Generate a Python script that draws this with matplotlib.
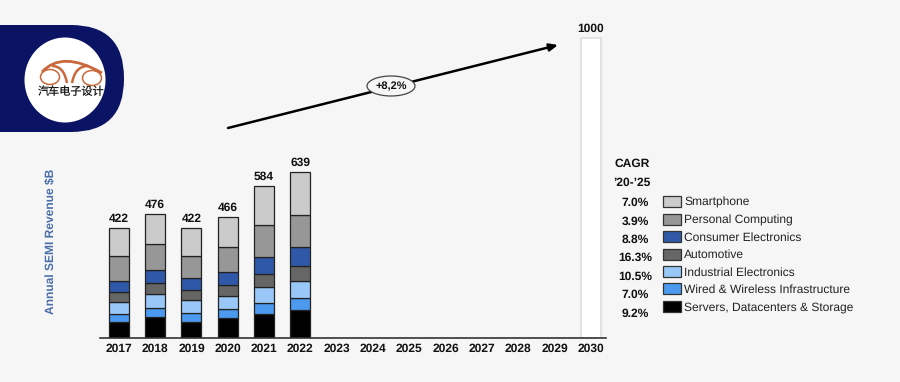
import matplotlib
matplotlib.use("Agg")
import matplotlib.pyplot as plt
from matplotlib.patches import Circle, Ellipse, FancyBboxPatch, Patch, PathPatch
from matplotlib.path import Path

plt.rcParams["font.family"] = ["Liberation Sans", "DejaVu Sans"]
plt.rcParams["text.hinting"] = "none"
plt.rcParams["text.hinting_factor"] = 1

years = [str(y) for y in range(2017, 2031)]
totals = [422, 476, 422, 466, 584, 639]
total_2030 = 1000
# the 2030 bar is not to scale in the original, this is its drawn height
height_2030 = 1154

segments = ["Smartphone", "Personal Computing", "Consumer Electronics", "Automotive",
            "Industrial Electronics", "Wired & Wireless Infrastructure",
            "Servers, Datacenters & Storage"]
cagr = ["7.0%", "3.9%", "8.8%", "16.3%", "10.5%", "7.0%", "9.2%"]
colors = ["#cbcbcb", "#979797", "#3058a8", "#666666", "#99c8f8", "#4c9af0", "#000000"]

smartphone = [108, 113, 105, 115, 148, 165]
personal = [93, 102, 85, 99, 123, 123]
consumer = [44, 49, 46, 49, 67, 73]
automotive = [40, 44, 41, 41, 50, 58]
industrial = [44, 51, 49, 49, 61, 65]
wired = [32, 36, 36, 37, 42, 49]
servers = [61, 81, 60, 76, 93, 106]
series = [smartphone, personal, consumer, automotive, industrial, wired, servers]

W, H = 900, 382
bg = "#f6f6f6"
fig = plt.figure(figsize=(W / 100, H / 100), dpi=100, facecolor=bg)

# bars
ax = fig.add_axes([100 / W, 1 - 338 / H, 506 / W, 318 / H], facecolor="none")
ax.set_xlim(-0.52, 13.42)
ax.set_ylim(0, 1223)
x = list(range(len(totals)))
bottom = [0] * len(totals)
for vals, c in zip(series[::-1], colors[::-1]):
    ax.bar(x, vals, width=0.55, bottom=bottom, color=c, edgecolor="#222222", linewidth=0.9)
    bottom = [b + v for b, v in zip(bottom, vals)]
for i, t in zip(x, totals):
    ax.text(i, t + 14, str(t), ha="center", va="bottom", fontsize=8.5, fontweight="bold", color="#111111")
ax.bar(13, height_2030, width=0.55, color="white", edgecolor="#dddddd", linewidth=1.2)
ax.text(13, height_2030 + 12, str(total_2030), ha="center", va="bottom", fontsize=8.5, fontweight="bold", color="#111111")
for s in ["top", "left", "right"]:
    ax.spines[s].set_visible(False)
ax.spines["bottom"].set_color("#333333")
ax.spines["bottom"].set_linewidth(1.2)
ax.set_yticks([])
ax.set_xticks(range(len(years)))
ax.set_xticklabels(years, fontsize=8.8, fontweight="bold", color="#111111")
ax.tick_params(axis="x", length=0, pad=4)

# overlay in pixel coordinates for logo, arrow, text
ov = fig.add_axes([0, 0, 1, 1], facecolor="none")
ov.set_xlim(0, W)
ov.set_ylim(H, 0)
ov.axis("off")

ov.add_patch(FancyBboxPatch((-60, 25), 184, 107, boxstyle="round,pad=0,rounding_size=53",
                            fc="#0b1464", ec="none"))
ov.add_patch(Ellipse((65, 80), 81, 85, fc="white", ec="none"))
orange = "#c8683c"


def curve(p0, c, p1, lw):
    path = Path([p0, c, p1], [Path.MOVETO, Path.CURVE3, Path.CURVE3])
    ov.add_patch(PathPatch(path, fc="none", ec=orange, lw=lw))


ov.add_patch(Ellipse((50, 77), 19, 15, fc="none", ec=orange, lw=1.1))
ov.add_patch(Ellipse((92, 78), 19, 15, fc="none", ec=orange, lw=1.1))
curve((42, 72), (62, 50), (102, 73), 2.0)
curve((67, 83), (64, 66), (52, 66), 1.8)
curve((72, 83), (75, 66), (88, 66), 1.8)
ov.text(71, 92, "汽车电子设计", ha="center", va="center", fontsize=8.0, color="#1a1a1a",
        family=["Noto Sans CJK SC", "DejaVu Sans"])

ov.annotate("", xy=(558, 45), xytext=(228, 128),
            arrowprops=dict(arrowstyle="-|>,head_width=0.22,head_length=0.5", lw=1.8, color="black",
                            shrinkA=0, shrinkB=0))
ov.add_patch(Ellipse((391, 86), 48, 20, fc=bg, ec="#444444", lw=0.9, zorder=3))
ov.text(391, 86, "+8,2%", ha="center", va="center", fontsize=8, fontweight="bold", color="#111111", zorder=4)

ov.text(51, 241, "Annual SEMI Revenue $B", rotation=90, ha="center", va="center",
        fontsize=8.5, fontweight="bold", color="#4a6ea8")

# CAGR column
ov.text(632, 164, "CAGR", ha="center", va="center", fontsize=8.6, fontweight="bold", color="#111111")
ov.text(632, 183, "’20-’25", ha="center", va="center", fontsize=8.6, fontweight="bold", color="#111111")
cagr_y = [203, 222, 240, 258, 277, 295, 314]
for yy, c in zip(cagr_y, cagr):
    ov.text(635, yy, c, ha="center", va="center", fontsize=8.6, fontweight="bold", color="#111111")

# legend
handles = [Patch(fc=c, ec="#333333", lw=0.9) for c in colors]
fig.legend(handles, segments, loc="upper left", bbox_to_anchor=(658.5 / W, 1 - 191.5 / H), frameon=False,
           fontsize=8.55, handlelength=1.5, handleheight=1.05, labelspacing=0.455, handletextpad=0.25,
           borderpad=0.4, borderaxespad=0, labelcolor="#222222")

fig.savefig("out.png", dpi=100, facecolor=bg)
